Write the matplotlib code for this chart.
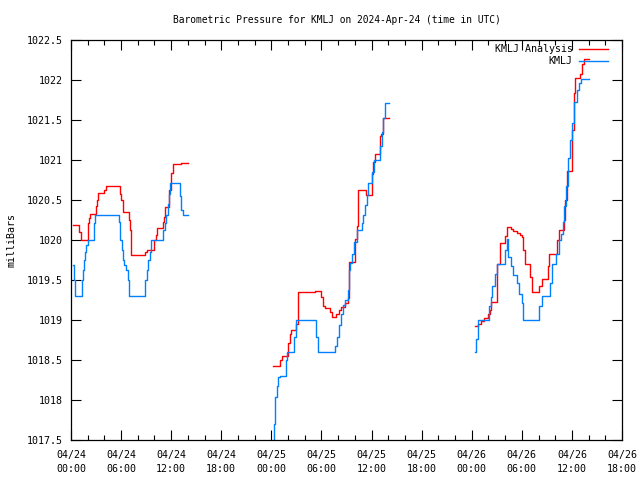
import matplotlib
matplotlib.use('Agg')
import matplotlib.pyplot as plt
import numpy as np

#%% Data (hours since 2024-04-24 00:00 UTC, pressure in mb)

title = 'Barometric Pressure for KMLJ on 2024-Apr-24 (time in UTC)'

# KMLJ Analysis (red), three daily segments
ana_t1 = [0.24, 1.0, 1.2, 2.0, 2.2, 2.32, 3.0, 3.12, 3.28, 4.0, 4.2, 5.92, 6.04, 6.2, 7.0, 7.12,
          7.24, 8.92, 9.12, 10.0, 10.2, 10.32, 11.0, 11.12, 11.28, 11.68, 11.92, 12.2, 13.2, 14.0]
ana_p1 = [1020.19, 1020.10, 1020.0, 1020.21, 1020.27, 1020.33, 1020.42, 1020.5, 1020.59, 1020.62,
          1020.67, 1020.58, 1020.5, 1020.35, 1020.25, 1020.13, 1019.81, 1019.85, 1019.88, 1020.0,
          1020.06, 1020.15, 1020.22, 1020.29, 1020.41, 1020.62, 1020.84, 1020.95, 1020.96, 1020.96]

ana_t2 = [24.24, 25.0, 25.28, 26.0, 26.2, 26.32, 27.0, 27.2, 29.2, 30.0, 30.2, 30.4, 31.0, 31.28,
          31.8, 32.1, 32.4, 32.8, 33.12, 33.25, 33.32, 34.0, 34.2, 34.4, 35.28, 36.0, 36.2, 36.4,
          37.0, 37.12, 37.32, 38.08]
ana_p2 = [1018.43, 1018.5, 1018.55, 1018.71, 1018.83, 1018.88, 1018.95, 1019.35, 1019.36, 1019.29,
          1019.17, 1019.15, 1019.1, 1019.04, 1019.08, 1019.12, 1019.16, 1019.21, 1019.27, 1019.4,
          1019.73, 1020.01, 1020.17, 1020.625, 1020.56, 1020.83, 1020.98, 1021.08, 1021.3, 1021.33,
          1021.53, 1021.53]

ana_t3 = [48.4, 48.72, 49.1, 49.5, 49.9, 50.2, 50.32, 51.08, 51.4, 52.0, 52.2, 52.72, 53.0, 53.4,
          53.8, 54.0, 54.2, 54.4, 55.0, 55.2, 56.08, 56.4, 57.12, 57.28, 58.2, 58.4, 59.0, 59.2,
          59.4, 60.0, 60.2, 60.4, 61.0, 61.2, 61.4, 62.08]
ana_p3 = [1018.93, 1018.95, 1018.99, 1019.03, 1019.08, 1019.12, 1019.23, 1019.7, 1019.96, 1020.05,
          1020.16, 1020.14, 1020.11, 1020.09, 1020.06, 1020.04, 1019.875, 1019.7, 1019.54, 1019.35,
          1019.42, 1019.51, 1019.67, 1019.83, 1020.0, 1020.12, 1020.25, 1020.5, 1020.86, 1021.375,
          1021.84, 1022.03, 1022.08, 1022.2, 1022.26, 1022.26]

# KMLJ observations (blue)
obs_t1 = [0.24, 0.4, 0.52, 1.28, 1.4, 1.52, 1.68, 1.8, 2.0, 2.72, 2.88, 5.8, 5.92, 6.08, 6.24,
          6.4, 6.6, 6.8, 7.0, 8.92, 9.12, 9.28, 9.44, 9.6, 11.0, 11.2, 11.4, 11.6, 11.75, 11.9,
          13.0, 13.2, 13.4, 14.0]
obs_p1 = [1019.69, 1019.5, 1019.3, 1019.5, 1019.62, 1019.75, 1019.85, 1019.94, 1020.0, 1020.21,
          1020.31, 1020.23, 1020.0, 1019.875, 1019.75, 1019.69, 1019.62, 1019.5, 1019.3, 1019.5,
          1019.62, 1019.75, 1019.85, 1020.0, 1020.125, 1020.21, 1020.31, 1020.45, 1020.58, 1020.71,
          1020.55, 1020.375, 1020.31, 1020.31]

obs_t2 = [24.2, 24.3, 24.4, 24.48, 24.64, 24.8, 25.0, 25.72, 25.92, 26.72, 26.92, 29.4, 29.6,
          31.68, 31.92, 32.16, 32.4, 32.6, 32.8, 33.12, 33.28, 33.44, 33.68, 33.92, 34.2, 34.8,
          35.0, 35.2, 35.4, 35.6, 36.0, 36.24, 37.0, 37.2, 37.4, 37.6, 38.08]
obs_p2 = [1017.45, 1017.7, 1017.81, 1018.04, 1018.17, 1018.29, 1018.3, 1018.5, 1018.6, 1018.79,
          1019.0, 1018.79, 1018.6, 1018.67, 1018.79, 1018.94, 1019.08, 1019.19, 1019.25, 1019.375,
          1019.625, 1019.71, 1019.83, 1019.98, 1020.125, 1020.21, 1020.31, 1020.44, 1020.56,
          1020.71, 1020.85, 1021.0, 1021.17, 1021.35, 1021.52, 1021.71, 1021.71]

obs_t3 = [48.45, 48.55, 48.72, 50.08, 50.32, 50.48, 50.8, 51.08, 52.0, 52.2, 52.4, 52.72, 53.0,
          53.4, 53.68, 54.0, 54.2, 56.08, 56.4, 57.4, 57.6, 58.12, 58.4, 58.68, 58.88, 59.04,
          59.28, 59.52, 59.8, 60.0, 60.24, 60.6, 60.88, 61.08, 62.08]
obs_p3 = [1018.6, 1018.76, 1019.0, 1019.17, 1019.29, 1019.42, 1019.58, 1019.7, 1019.875, 1020.01,
          1019.79, 1019.67, 1019.56, 1019.46, 1019.33, 1019.21, 1019.0, 1019.17, 1019.3, 1019.46,
          1019.7, 1019.83, 1020.0, 1020.08, 1020.23, 1020.42, 1020.67, 1021.02, 1021.25, 1021.46,
          1021.72, 1021.875, 1021.96, 1022.01, 1022.01]

xticks = [0, 6, 12, 18, 24, 30, 36, 42, 48, 54, 60, 66]
xtick_labels = ['04/24\n00:00', '04/24\n06:00', '04/24\n12:00', '04/24\n18:00',
                '04/25\n00:00', '04/25\n06:00', '04/25\n12:00', '04/25\n18:00',
                '04/26\n00:00', '04/26\n06:00', '04/26\n12:00', '04/26\n18:00']
yticks = [1017.5, 1018, 1018.5, 1019, 1019.5, 1020, 1020.5, 1021, 1021.5, 1022, 1022.5]
ytick_labels = ['1017.5', '1018', '1018.5', '1019', '1019.5', '1020', '1020.5', '1021',
                '1021.5', '1022', '1022.5']

#%% Plot

plt.rcParams['font.family'] = 'DejaVu Sans Mono'
plt.rcParams['font.size'] = 7.2

red = '#ff0000'
blue = '#0080ff'

fig = plt.figure(figsize=(6.4, 4.8), dpi=100)
ax = fig.add_axes([71/640, 40/480, 551/640, 400/480])

ax.plot(ana_t1, ana_p1, color=red, lw=1.0, drawstyle='steps-post', label='KMLJ Analysis')
ax.plot(ana_t2, ana_p2, color=red, lw=1.0, drawstyle='steps-post')
ax.plot(ana_t3, ana_p3, color=red, lw=1.0, drawstyle='steps-post')
ax.plot(obs_t1, obs_p1, color=blue, lw=1.0, drawstyle='steps-post', label='KMLJ')
ax.plot(obs_t2, obs_p2, color=blue, lw=1.0, drawstyle='steps-post')
ax.plot(obs_t3, obs_p3, color=blue, lw=1.0, drawstyle='steps-post')

ax.set_xlim(0, 66)
ax.set_ylim(1017.5, 1022.5)

ax.set_xticks(xticks)
ax.set_xticklabels(xtick_labels, linespacing=1.55)
ax.set_xticks(np.arange(0, 67, 2), minor=True)
ax.set_yticks(yticks)
ax.set_yticklabels(ytick_labels)

ax.tick_params(which='major', direction='in', length=7, width=0.8, top=True, right=True, pad=7)
ax.tick_params(which='minor', direction='in', length=3.5, width=0.8, top=True, right=True)
ax.tick_params(axis='y', pad=6)
for s in ax.spines.values():
    s.set_linewidth(0.9)

leg = ax.legend(loc='upper right', frameon=False, markerfirst=False, handlelength=2.9,
                handletextpad=0.6, labelspacing=0.25, borderaxespad=0.2,
                fontsize=7.2, bbox_to_anchor=(0.985, 1.005))

fig.text(337/640, 1 - 20/480, title, ha='center', va='center', fontsize=6.9)
fig.text(12/640, 0.5, 'milliBars', rotation=90, ha='center', va='center')

plt.savefig('out.png', dpi=100)
